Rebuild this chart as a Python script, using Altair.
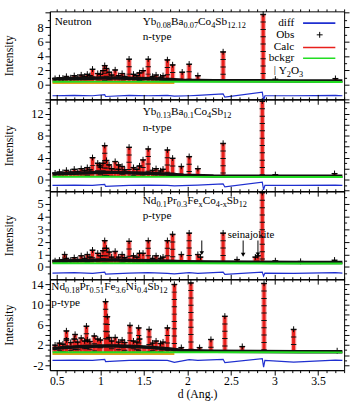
import altair as alt
import pandas as pd

FONT = "Liberation Serif"
RED = "#e8201c"
GREEN = "#22dd22"
BLUE = "#1f2fd0"
ORANGE = "#e0a020"
CROSS = "M-1,0L1,0M0,-1L0,1"

# ---------------- data ----------------
X_DOMAIN = [0.42, 3.80]
X_LABELS = [0.5, 1, 1.5, 2, 2.5, 3, 3.5]

# dense low-d reflections (positions shared by all four patterns)
LOW_D = [0.48, 0.53, 0.57, 0.61, 0.66, 0.70, 0.74, 0.78, 0.82, 0.85, 0.88, 0.97, 1.00,
         1.10, 1.13, 1.21, 1.25, 1.28, 1.38, 1.42, 1.45, 1.60, 1.64, 1.69, 1.72]

# Panel 1: Yb0.08Ba0.07Co4Sb12.12
p1_peak_d = [0.91, 1.03, 1.05, 1.07, 1.17, 1.33, 1.49, 1.55, 1.77, 1.83, 1.94, 2.02, 2.12, 2.41, 2.87, 3.01, 3.70]
p1_peak_h = [2.2, 2.0, 2.7, 2.3, 2.1, 3.6, 2.0, 3.6, 3.5, 2.8, 1.8, 2.9, 1.3, 4.6, 9.8, 0.8, 0.9]
p1_minor_h = [0.9, 1.0, 0.95, 1.2, 1.0, 1.3, 1.1, 1.4, 1.2, 1.5, 1.3, 1.6, 1.5, 1.8, 1.4, 1.3, 1.6, 1.2,
              1.5, 1.3, 1.7, 1.2, 1.4, 1.1, 1.3]
p1_ylabels = [0, 2, 4, 6, 8]

# Panel 2: Yb0.13Ba0.1Co4Sb12
p2_peak_d = [0.91, 0.99, 1.03, 1.05, 1.07, 1.17, 1.21, 1.33, 1.49, 1.55, 1.77, 1.83, 1.93, 2.02, 2.12, 2.41, 2.86, 3.01, 3.69]
p2_peak_h = [4.0, 2.6, 3.0, 6.2, 3.5, 3.3, 2.7, 5.9, 3.6, 5.6, 5.4, 3.9, 2.4, 4.2, 2.0, 6.6, 14.3, 0.9, 1.1]
p2_minor_h = [1.2, 1.4, 1.3, 1.7, 1.4, 1.9, 1.5, 2.0, 1.7, 2.2, 1.8, 3.0, 2.3, 2.7, 2.0, 1.9, 2.4, 1.8,
              2.2, 1.9, 2.5, 1.7, 2.0, 1.6, 1.9]
p2_ylabels = [0, 2, 4, 6, 8, 10, 12, 14]

# Panel 3: Nd0.1Pr0.3FexCo4-xSb12
p3_peak_d = [0.59, 0.91, 1.03, 1.05, 1.07, 1.17, 1.33, 1.49, 1.55, 1.77, 1.83, 1.93, 2.02, 2.12, 2.15,
             2.41, 2.57, 2.78, 2.81, 2.86, 3.01, 3.30, 3.69]
p3_peak_h = [1.0, 1.35, 1.3, 2.1, 1.5, 1.25, 2.05, 1.1, 2.1, 2.1, 2.6, 1.0, 2.7, 1.0, 0.8,
             2.7, 0.6, 0.8, 0.9, 5.9, 0.5, 0.45, 0.55]
p3_minor_h = [0.5, 0.55, 0.6, 0.7, 0.55, 0.75, 0.6, 0.9, 0.7, 1.0, 0.8, 1.1, 0.9, 1.2, 0.8, 0.8, 1.0, 0.75,
              0.9, 0.8, 1.1, 0.7, 0.9, 0.7, 0.8]
p3_ylabels = [0, 1, 2, 3, 4, 5]

# Panel 4: Nd0.18Pr0.51Fe3.6Ni0.4Sb12
p4_peak_d = [0.61, 0.71, 0.84, 0.93, 1.06, 1.08, 1.17, 1.34, 1.44, 1.56, 1.77, 1.85, 1.93, 2.04, 2.14,
             2.27, 2.43, 2.63, 2.88, 3.22, 3.72]
p4_peak_h = [4.8, 4.1, 5.75, 3.8, 10.6, 7.6, 3.5, 5.9, 5.4, 5.1, 5.4, 14.0, 1.5, 14.3, 1.5,
             3.1, 7.7, 1.7, 14.2, 5.1, 0.85]
p4_minor_h = [2.0, 2.4, 2.2, 3.0, 2.5, 3.2, 2.6, 3.4, 2.8, 3.0, 2.7, 3.2, 3.0, 3.5, 2.8, 2.6, 3.0, 2.5,
              2.8, 2.6, 3.2, 2.4, 2.8, 2.3, 2.6]
p4_ylabels = [-2, 0, 2, 4, 6, 8, 10, 12, 14]

# observed baseline band and calculated low-d envelope
BAND_D = [0.45, 0.60, 0.80, 1.00, 1.20, 1.40, 1.60, 1.80, 1.95, 2.30, 2.80, 3.30, 3.78]
p1_band = [0.80, 0.85, 0.90, 0.95, 0.95, 0.90, 0.85, 0.75, 0.65, 0.60, 0.58, 0.55, 0.55]
p1_calc = [0.90, 0.95, 1.00, 1.05, 1.05, 1.00, 0.95, 0.85, 0.70, 0.60, 0.58, 0.55, 0.55]
p2_band = [1.0, 1.1, 1.2, 1.3, 1.3, 1.2, 1.1, 0.95, 0.8, 0.65, 0.62, 0.6, 0.6]
p2_calc = [1.1, 1.2, 1.35, 1.45, 1.45, 1.35, 1.2, 1.0, 0.8, 0.65, 0.62, 0.6, 0.6]
p3_band = [0.45, 0.48, 0.52, 0.55, 0.55, 0.52, 0.5, 0.45, 0.42, 0.4, 0.38, 0.36, 0.36]
p3_calc = [0.5, 0.55, 0.6, 0.65, 0.65, 0.6, 0.55, 0.5, 0.45, 0.42, 0.4, 0.38, 0.38]
p4_band = [1.3, 1.5, 1.7, 1.8, 1.8, 1.7, 1.5, 1.2, 0.9, 0.75, 0.7, 0.65, 0.65]
p4_calc = [1.5, 1.7, 1.9, 2.0, 2.0, 1.9, 1.7, 1.4, 1.0, 0.8, 0.72, 0.68, 0.68]

# background
BG_D = [0.45, 1.00, 2.00, 3.00, 3.78]
p1_bg = [0.45, 0.46, 0.45, 0.43, 0.42]
p2_bg = [0.50, 0.50, 0.48, 0.46, 0.45]
p3_bg = [0.30, 0.30, 0.29, 0.28, 0.28]
p4_bg = [0.55, 0.56, 0.55, 0.53, 0.52]

# Y2O3 reflection marker row
Y2O3_D = [0.45, 1.85]
p1_y2o3 = [0.28, 0.28]
p4_y2o3 = [0.22, 0.22]

# difference curves
DIFF_D = [0.45, 0.70, 0.91, 1.05, 1.06, 1.33, 1.55, 1.77, 1.85, 2.02, 2.12, 2.41, 2.43, 2.86, 2.875, 2.89, 3.22, 3.70, 3.78]
p1_diff = [-1.5, -1.45, -1.5, -1.35, -1.6, -1.45, -1.5, -1.45, -1.55, -1.5, -1.45, -1.25, -1.7, -1.0, -2.1, -1.5, -1.5, -1.45, -1.5]
p2_diff = [-1.07, -1.02, -1.07, -0.9, -1.25, -1.07, -1.02, -1.07, -1.15, -1.07, -1.02, -0.8, -1.35, -0.5, -1.9, -1.07, -1.07, -1.02, -1.07]
p3_diff = [-0.48, -0.44, -0.5, -0.4, -0.56, -0.48, -0.44, -0.5, -0.55, -0.45, -0.5, -0.4, -0.58, -0.4, -0.72, -0.48, -0.5, -0.45, -0.48]
p4_diff = [-1.06, -1.0, -1.06, -0.85, -1.3, -1.06, -1.0, -1.06, -1.45, -0.9, -1.06, -0.85, -1.5, -0.7, -2.4, -1.06, -1.4, -1.0, -1.06]

# seinajokite arrows (panel 3)
arrow_d = [2.165, 2.64, 2.81]
arrow_top = [2.1, 2.1, 2.1]
arrow_tip = [1.1, 0.97, 1.0]

# ---------------- text helpers ----------------
TW = {'0': 500, '1': 500, '2': 500, '3': 500, '4': 500, '5': 500, '6': 500, '7': 500, '8': 500,
      '9': 500, '.': 250, '-': 333, 'Y': 722, 'b': 500, 'B': 667, 'a': 444, 'C': 667, 'o': 500,
      'S': 556, 'N': 722, 'd': 500, 'P': 556, 'r': 333, 'F': 556, 'e': 444, 'x': 500, 'i': 278,
      'O': 722}


def rich(segments, x0, y0, main=11.5, sub=8.5, dy=3.0):
    out = []
    x = x0
    for txt, is_sub in segments:
        fs = sub if is_sub else main
        out.append({"px": x, "py": y0 + (dy if is_sub else 0.0), "t": txt, "fs": fs})
        x += sum(TW.get(c, 500) for c in txt) * fs / 1000.0
    return out


def plain(txt, x, y, fs=11.5):
    return {"px": x, "py": y, "t": txt, "fs": fs}


X_TICKS = [round(0.5 + 0.1 * i, 1) for i in range(34)]
X_TEST = "round(datum.value*10) % 5 === 0"


def cond(test, big, small):
    return {"condition": {"test": test, "value": big}, "value": small}


def build_panel(p):
    xs = alt.Scale(domain=X_DOMAIN, nice=False, zero=False)
    ys = alt.Scale(domain=p["ydom"], nice=False, zero=False)
    xq = alt.X("d:Q", scale=xs, axis=None)

    def yq(f):
        return alt.Y(f, scale=ys, axis=None)

    band = pd.DataFrame({"d": BAND_D, "band": p["band"], "calc": p["calc"]})
    band["base"] = p["bg"][0]
    bgdf = pd.DataFrame({"d": BG_D, "bg": p["bg"]})
    pk = pd.DataFrame({"d": list(p["peak_d"]) + LOW_D,
                       "top": list(p["peak_h"]) + list(p["minor_h"])})
    pk["base"] = p["bg"][1]
    diff = pd.DataFrame({"d": DIFF_D, "v": p["diff"]})

    ytest = "datum.value %% %s === 0" % p["ystep"]
    ylab = "indexof(%s, datum.value) >= 0 ? toString(datum.value) : ''" % str(p["ylabels"])
    xlab = "indexof(%s, round(datum.value*10)/10) >= 0 ? toString(round(datum.value*10)/10) : ''" % str(X_LABELS)
    if p["bottom"]:
        xaxis = alt.Axis(orient="bottom", values=X_TICKS, tickSize=cond(X_TEST, 5, 2.5),
                         labelExpr=xlab, labelFlush=False, labelPadding=1, titlePadding=2,
                         labelFontSize=12, titleFontSize=12)
        xtitle = "d (Ang.)"
    else:
        xaxis = alt.Axis(orient="bottom", values=X_TICKS, tickSize=cond(X_TEST, 5, 2.5),
                         labels=False)
        xtitle = None
    yaxis = alt.Axis(orient="left", values=p["yticks"], tickSize=cond(ytest, 5, 2.5),
                     labelExpr=ylab, labelFlush=False,
                     labelPadding=2, titleX=-35, titleFontSize=12)
    top_axis = alt.Axis(orient="top", values=X_TICKS,
                        tickSize=(2.5 if p["first"] else cond(X_TEST, 5, 2.5)),
                        labels=False, domain=False)
    right_axis = alt.Axis(orient="right", values=p["yticks"], tickSize=cond(ytest, 5, 2.5),
                          labels=False, domain=False)

    layers = []
    layers.append(alt.Chart(band).mark_area(color=RED, opacity=0.9)
                  .encode(x=xq, y=yq("calc:Q"), y2="base:Q"))
    if p.get("y2o3"):
        ydf = pd.DataFrame({"d": Y2O3_D, "v": p["y2o3"]})
        layers.append(alt.Chart(ydf).mark_line(color=ORANGE, strokeWidth=2)
                      .encode(x=xq, y=yq("v:Q")))
    layers.append(alt.Chart(pk).mark_rule(color="#f4a0a0", strokeWidth=5.5, opacity=0.8)
                  .encode(x=xq, y=yq("top:Q"), y2="base:Q"))
    layers.append(alt.Chart(pk).mark_rule(color=RED, strokeWidth=3.2)
                  .encode(x=xq, y=yq("top:Q"), y2="base:Q"))
    layers.append(alt.Chart(pk).mark_rule(color="#111111", strokeWidth=5.5, strokeDash=[1, 6.5])
                  .encode(x=xq, y=yq("top:Q"), y2="base:Q"))
    layers.append(alt.Chart(pk).mark_point(shape=CROSS, size=36, filled=False, color="black",
                                           strokeWidth=1, opacity=1)
                  .encode(x=xq, y=yq("top:Q")))
    layers.append(alt.Chart(band).mark_line(color="#101010", strokeWidth=3.5)
                  .encode(x=xq, y=yq("band:Q")))
    layers.append(alt.Chart(bgdf).mark_line(color=GREEN, strokeWidth=2)
                  .encode(x=alt.X("d:Q", scale=xs, axis=xaxis, title=xtitle),
                          y=alt.Y("bg:Q", scale=ys, axis=yaxis, title="Intensity")))
    layers.append(alt.Chart(diff).mark_line(color=BLUE, strokeWidth=1.2)
                  .encode(x=xq, y=yq("v:Q")))
    if p.get("arrows"):
        adf = pd.DataFrame({"d": arrow_d, "top": arrow_top, "tip": arrow_tip})
        layers.append(alt.Chart(adf).mark_rule(color="black", strokeWidth=1)
                      .encode(x=xq, y=yq("top:Q"), y2="tip:Q"))
        layers.append(alt.Chart(adf).mark_point(shape="triangle-down", size=22, filled=True,
                                                color="black", opacity=1)
                      .encode(x=xq, y=yq("tip:Q")))
    px = alt.X("px:Q", scale=None, axis=None)
    py = alt.Y("py:Q", scale=None, axis=None)
    tl = pd.DataFrame(p["text_left"])
    layers.append(alt.Chart(tl).mark_text(align="left", baseline="middle", font=FONT, color="black")
                  .encode(x=px, y=py, text="t:N", size=alt.Size("fs:Q", scale=None)))
    if p.get("text_right"):
        tr = pd.DataFrame(p["text_right"])
        layers.append(alt.Chart(tr).mark_text(align="right", baseline="middle", font=FONT, color="black")
                      .encode(x=px, y=py, text="t:N", size=alt.Size("fs:Q", scale=None)))
    if p.get("samples"):
        sm = pd.DataFrame(p["samples"])
        layers.append(alt.Chart(sm).mark_rule(strokeWidth=1.6)
                      .encode(x=px, x2="px2:Q", y=py, color=alt.Color("c:N", scale=None)))
        cm = pd.DataFrame(p["sample_cross"])
        layers.append(alt.Chart(cm).mark_point(shape=CROSS, size=36, filled=False, color="black",
                                               strokeWidth=1, opacity=1)
                      .encode(x=px, y=py))
    layers.append(alt.Chart(bgdf).mark_point(opacity=0)
                  .encode(x=alt.X("d:Q", scale=xs, axis=top_axis, title=None),
                          y=alt.Y("bg:Q", scale=ys, axis=right_axis, title=None)))
    return (alt.layer(*layers)
            .resolve_axis(x="independent", y="independent")
            .properties(width=301, height=p["height"]))


LX = 95
panels_cfg = [
    dict(peak_d=p1_peak_d, peak_h=p1_peak_h, minor_h=p1_minor_h, band=p1_band, calc=p1_calc,
         bg=p1_bg, diff=p1_diff, y2o3=p1_y2o3, ydom=[-2.0, 10.2], height=90, ystep=2,
         ylabels=p1_ylabels, yticks=list(range(-2, 11)), bottom=False, first=True,
         text_left=[plain("Neutron", 5, 11)]
         + rich([("Yb", 0), ("0.08", 1), ("Ba", 0), ("0.07", 1), ("Co", 0), ("4", 1), ("Sb", 0), ("12.12", 1)], LX, 10.5)
         + [plain("n-type", LX, 26)]
         + [plain("|", 229, 60, 11)]
         + rich([("Y", 0), ("2", 1), ("O", 0), ("3", 1)], 234, 61),
         text_right=[plain("diff", 250, 12), plain("Obs", 250, 24), plain("Calc", 250, 37),
                     plain("bckgr", 250, 48)],
         samples=[{"px": 259, "px2": 292, "py": 12, "c": BLUE},
                  {"px": 259, "px2": 292, "py": 37, "c": RED},
                  {"px": 259, "px2": 292, "py": 48, "c": GREEN}],
         sample_cross=[{"px": 276, "py": 24}]),
    dict(peak_d=p2_peak_d, peak_h=p2_peak_h, minor_h=p2_minor_h, band=p2_band, calc=p2_calc,
         bg=p2_bg, diff=p2_diff, ydom=[-2.14, 14.6], height=94, ystep=2,
         ylabels=p2_ylabels, yticks=list(range(-2, 15)), bottom=False, first=False,
         text_left=rich([("Yb", 0), ("0.13", 1), ("Ba", 0), ("0.1", 1), ("Co", 0), ("4", 1), ("Sb", 0), ("12", 1)], LX, 13.5)
         + [plain("n-type", LX, 29)]),
    dict(peak_d=p3_peak_d, peak_h=p3_peak_h, minor_h=p3_minor_h, band=p3_band, calc=p3_calc,
         bg=p3_bg, diff=p3_diff, ydom=[-0.97, 6.0], height=90, ystep=1,
         ylabels=p3_ylabels, yticks=[-0.5, 0, 0.5, 1, 1.5, 2, 2.5, 3, 3.5, 4, 4.5, 5, 5.5],
         bottom=False, first=False, arrows=True,
         text_left=rich([("Nd", 0), ("0.1", 1), ("Pr", 0), ("0.3", 1), ("Fe", 0), ("x", 1), ("Co", 0), ("4-x", 1), ("Sb", 0), ("12", 1)], LX, 10)
         + [plain("p-type", LX, 25.5), plain("seinajokite", 182, 45, 11)]),
    dict(peak_d=p4_peak_d, peak_h=p4_peak_h, minor_h=p4_minor_h, band=p4_band, calc=p4_calc,
         bg=p4_bg, diff=p4_diff, y2o3=p4_y2o3, ydom=[-3.0, 15.0], height=93, ystep=2,
         ylabels=p4_ylabels, yticks=list(range(-2, 15)), bottom=True, first=False,
         text_left=rich([("Nd", 0), ("0.18", 1), ("Pr", 0), ("0.51", 1), ("Fe", 0), ("3.6", 1), ("Ni", 0), ("0.4", 1), ("Sb", 0), ("12", 1)], 1.5, 8)
         + [plain("p-type", 1.5, 24)]),
]

panels = [build_panel(c) for c in panels_cfg]

chart = (alt.vconcat(*panels, spacing=0, bounds="flush")
         .resolve_scale(x="independent", y="independent")
         .properties(padding={"left": 2, "top": 3, "right": 0, "bottom": 0})
         .configure_view(stroke="black", strokeWidth=1)
         .configure_axis(labelFont=FONT, labelFontSize=12.5, titleFont=FONT, titleFontWeight="normal",
                         domainColor="black", tickColor="black", labelColor="black",
                         titleColor="black", grid=False, tickWidth=1, domainWidth=1))

chart.save("out.html", embed_options={"renderer": "svg", "actions": False})
